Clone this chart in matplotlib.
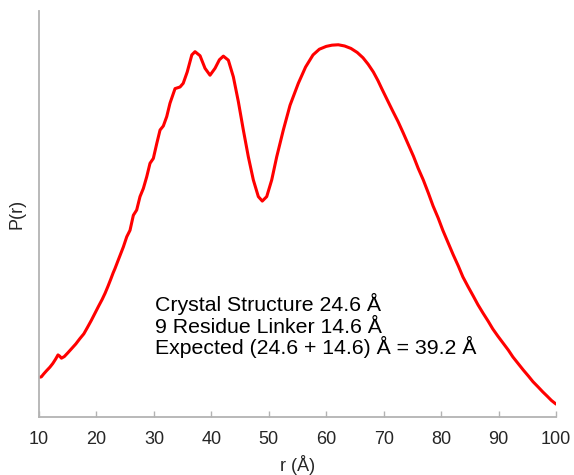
import numpy as np
import matplotlib.pyplot as plt

plt.rcParams['font.family'] = ['Liberation Sans', 'DejaVu Sans']

# distance distribution P(r), arbitrary units
r = [10.0, 10.4, 10.8, 11.3, 11.9, 12.4, 12.9, 13.3, 13.6, 13.9,
     14.4, 15.0, 15.7, 16.4, 17.1, 17.8, 18.4, 19.1, 19.75, 20.4,
     21.0, 21.5, 22.0, 22.5, 22.9, 23.23, 23.8, 24.68, 25.27, 25.84,
     26.42, 27.0, 27.58, 28.16, 28.75, 29.32, 29.9, 30.5, 31.07, 31.64,
     32.23, 32.8, 33.68, 34.55, 35.1, 35.8, 36.6, 37.16, 38.03, 38.9,
     39.77, 40.64, 41.4, 42.09, 42.96, 43.83, 44.7, 45.57, 46.44, 47.31,
     48.18, 48.87, 49.64, 50.51, 51.38, 52.53, 53.7, 55.14, 56.4, 57.7,
     58.8, 60.0, 61.0, 62.1, 63.2, 64.3, 65.4, 66.4, 67.3, 68.2,
     69.0, 69.7, 70.6, 71.5, 72.5, 73.4, 74.3, 75.2, 76.0, 76.9,
     77.8, 78.6, 79.5, 80.3, 81.2, 82.1, 83.0, 83.8, 84.7, 85.6,
     86.4, 87.3, 88.2, 89.0, 89.9, 90.8, 91.7, 92.5, 93.4, 94.3,
     95.2, 96.0, 96.9, 97.7, 98.5, 99.2, 100.0]
p = [0.098, 0.099, 0.106, 0.114, 0.123, 0.132, 0.143, 0.153, 0.150, 0.145,
     0.149, 0.158, 0.169, 0.180, 0.193, 0.205, 0.220, 0.238, 0.256, 0.274,
     0.290, 0.305, 0.322, 0.340, 0.355, 0.366, 0.387, 0.419, 0.444, 0.460,
     0.497, 0.510, 0.543, 0.563, 0.592, 0.625, 0.637, 0.674, 0.707, 0.717,
     0.740, 0.773, 0.809, 0.813, 0.822, 0.850, 0.892, 0.900, 0.890, 0.859,
     0.842, 0.859, 0.880, 0.889, 0.879, 0.838, 0.777, 0.707, 0.641, 0.584,
     0.543, 0.532, 0.543, 0.584, 0.641, 0.707, 0.768, 0.822, 0.862, 0.892,
     0.906, 0.913, 0.916, 0.917, 0.914, 0.908, 0.898, 0.885, 0.869, 0.850,
     0.829, 0.808, 0.782, 0.756, 0.728, 0.700, 0.671, 0.642, 0.613, 0.584,
     0.551, 0.520, 0.490, 0.460, 0.430, 0.400, 0.372, 0.345, 0.321, 0.298,
     0.277, 0.256, 0.236, 0.217, 0.199, 0.182, 0.165, 0.148, 0.132, 0.116,
     0.101, 0.087, 0.074, 0.062, 0.051, 0.041, 0.032]

xticks = [10, 20, 30, 40, 50, 60, 70, 80, 90, 100]
notes = ['Crystal Structure 24.6 Å',
         '9 Residue Linker 14.6 Å',
         'Expected (24.6 + 14.6) Å = 39.2 Å']

fig = plt.figure(figsize=(5.74, 4.75), dpi=100)
ax = fig.add_axes([0.068, 0.122, 0.9006, 0.8547])

ax.plot(r, p, color='red', lw=2.2, solid_capstyle='round', solid_joinstyle='round')

ax.set_xlim(10, 100)
ax.set_ylim(0, 1)
ax.set_xticks(xticks)
ax.set_yticks([])

for side in ['top', 'right']:
    ax.spines[side].set_visible(False)
for side in ['left', 'bottom']:
    ax.spines[side].set_color('#b3b3b3')
    ax.spines[side].set_linewidth(1.3)

ax.tick_params(axis='x', direction='in', length=4, width=1.0, color='#b3b3b3',
               labelsize=13, labelcolor='#262626', pad=10)
ax.set_xlabel('r (Å)', fontsize=13, color='#262626', labelpad=5)
ax.set_ylabel('P(r)', fontsize=13, color='#262626', labelpad=10)

for y, s in zip([0.261, 0.207, 0.155], notes):
    ax.text(30.2, y, s, fontsize=15.3, color='black', va='baseline', ha='left')

fig.savefig('out.png', dpi=100)
